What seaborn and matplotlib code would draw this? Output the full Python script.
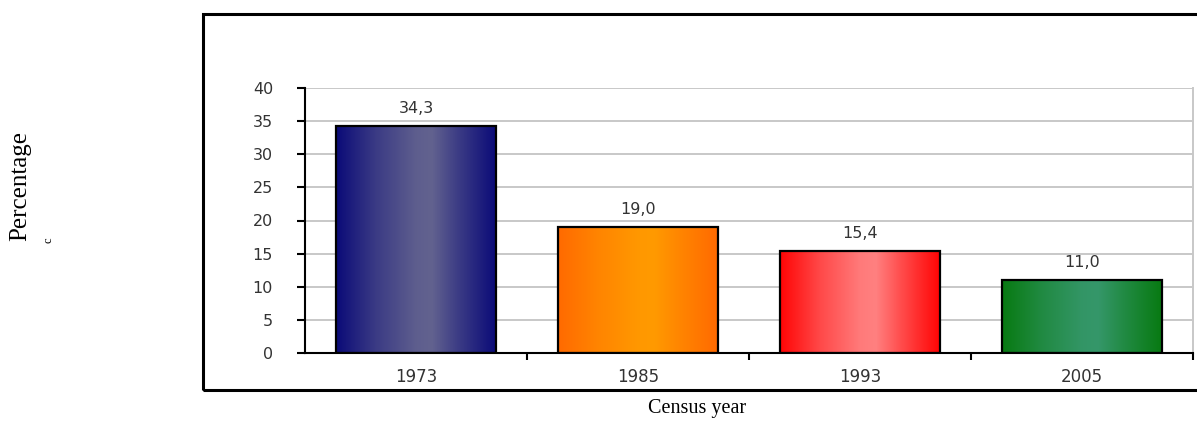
import numpy as np
import matplotlib
matplotlib.use('Agg')
import matplotlib.pyplot as plt
from matplotlib.colors import LinearSegmentedColormap
import seaborn as sns

years = ['1973', '1985', '1993', '2005']
percent = [34.3, 19.0, 15.4, 11.0]
value_labels = ['34,3', '19,0', '15,4', '11,0']
yticks = [0, 5, 10, 15, 20, 25, 30, 35, 40]

# edge colour / centre colour for each bar's gradient
edge_cols = ['#0b0b78', '#ff6a00', '#ff0505', '#087a12']
mid_cols = ['#62628f', '#ff9a00', '#ff8080', '#35976a']

sns.set_theme(style='white')
plt.rcParams['font.family'] = ['DejaVu Sans']

fig = plt.figure(figsize=(11.97, 4.21), dpi=100)
ax = fig.add_axes([305 / 1197, 1 - 353 / 421, (1193 - 305) / 1197, (353 - 88) / 421])

sns.barplot(x=years, y=percent, ax=ax, width=0.72, color='white',
            edgecolor='black', linewidth=1.6, zorder=3)

# gradient fill under each bar outline
grad = np.array([0.0, 0.25, 0.5, 0.6, 0.75, 1.0])
prof = np.interp(np.linspace(0, 1, 256), grad, [0.0, 0.55, 0.95, 1.0, 0.6, 0.0])
for patch, ec, mc in zip(ax.patches, edge_cols, mid_cols):
    patch.set_facecolor('none')
    cmap = LinearSegmentedColormap.from_list('g', [ec, mc])
    x0, y0 = patch.get_x(), patch.get_y()
    w, h = patch.get_width(), patch.get_height()
    ax.imshow(prof[np.newaxis, :], cmap=cmap, vmin=0, vmax=1, aspect='auto',
              extent=[x0, x0 + w, y0, y0 + h], zorder=2.5, interpolation='bilinear')

for i, (v, lab) in enumerate(zip(percent, value_labels)):
    ax.annotate(lab, (i, v), xytext=(0, 7), textcoords='offset points',
                ha='center', va='bottom', fontsize=11.5, color='#333333')

ax.set_xlim(-0.5, 3.5)
ax.set_ylim(0, 40)
ax.set_yticks(yticks)
ax.yaxis.grid(True, color='#c8c8c8', linewidth=1.4, zorder=0)
ax.set_axisbelow(True)

ax.set_xticks(np.arange(len(years)) + 0.5, minor=True)
ax.tick_params(axis='x', which='major', length=0, pad=11, labelsize=12, labelcolor='#333333')
ax.tick_params(axis='x', which='minor', length=5, width=1.5, color='black', direction='out', bottom=True)
ax.tick_params(axis='y', length=6, width=1.5, color='black', direction='out', left=True,
               labelsize=11.5, labelcolor='#333333', pad=17)

ax.spines['top'].set_visible(False)
ax.spines['right'].set_color('#c8c8c8')
ax.spines['right'].set_linewidth(1.4)
for s in ['left', 'bottom']:
    ax.spines[s].set_color('black')
    ax.spines[s].set_linewidth(1.5)
ax.set_xlabel('')
ax.set_ylabel('')

# outer frame
fig.patches.append(plt.Rectangle((203 / 1197, 1 - 390 / 421), 1.0, (390 - 14) / 421,
                                 transform=fig.transFigure, fill=False,
                                 edgecolor='black', linewidth=2.2))

fig.text(20 / 1197, 1 - 186 / 421, 'Percentage', rotation=90, ha='center', va='center',
         fontsize=18, family='Liberation Serif', color='black')
fig.text(48 / 1197, 1 - 240 / 421, 'c', rotation=90, ha='center', va='center',
         fontsize=9, family='Liberation Serif', color='black')
fig.text(697 / 1197, 1 - 409 / 421, 'Census year', ha='center', va='center',
         fontsize=14.5, family='Liberation Serif', color='black')

fig.savefig('out.png', dpi=100)
